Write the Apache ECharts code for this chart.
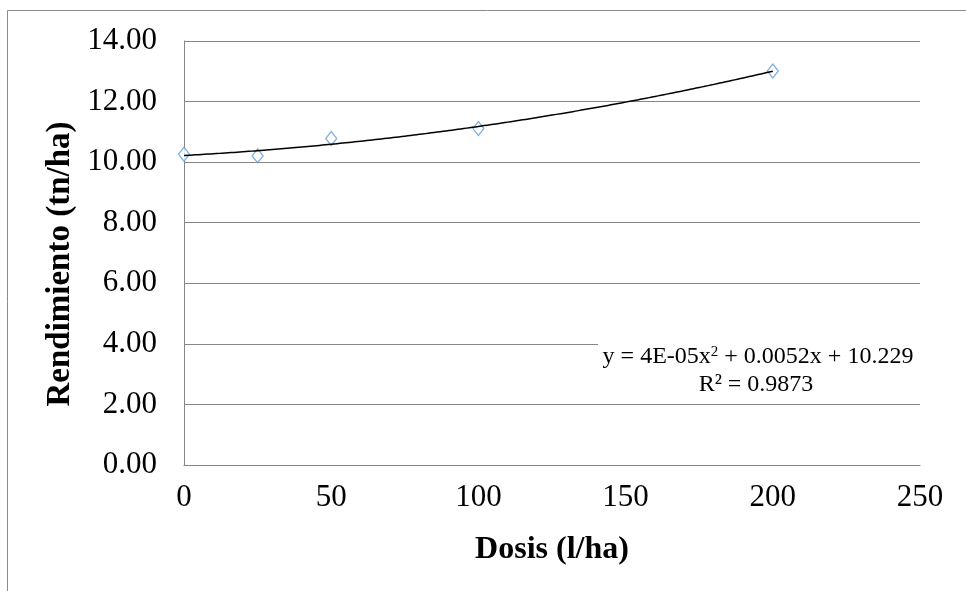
<!DOCTYPE html>
<html>
<head>
<meta charset="utf-8">
<script src="https://cdn.jsdelivr.net/npm/echarts@6/dist/echarts.min.js"></script>
<style>html,body{margin:0;padding:0;background:#fff;}#c{width:966px;height:591px;}</style>
</head>
<body>
<div id="c"></div>
<script>
const dosis = [0, 25, 50, 100, 200];
const rendimiento = [10.26, 10.21, 10.78, 11.11, 13.01];
const xTicks = [0, 50, 100, 150, 200, 250];
const yTicks = [0, 2, 4, 6, 8, 10, 12, 14];
const xTitle = 'Dosis (l/ha)';
const yTitle = 'Rendimiento (tn/ha)';
const eqLine1 = ['y = 4E-05x', '2', ' + 0.0052x + 10.229'];
const eqLine2 = 'R² = 0.9873';

// least squares quadratic fit (trendline)
function fitQuad(xs, ys) {
  const n = xs.length;
  let s = [0,0,0,0,0], t = [0,0,0];
  for (let i = 0; i < n; i++) {
    let p = 1;
    for (let k = 0; k < 5; k++) { s[k] += p; if (k < 3) t[k] += p * ys[i]; p *= xs[i]; }
  }
  const M = [[s[0], s[1], s[2], t[0]], [s[1], s[2], s[3], t[1]], [s[2], s[3], s[4], t[2]]];
  for (let i = 0; i < 3; i++) {
    for (let j = i + 1; j < 3; j++) {
      const f = M[j][i] / M[i][i];
      for (let k = i; k < 4; k++) M[j][k] -= f * M[i][k];
    }
  }
  const r = [0,0,0];
  for (let i = 2; i >= 0; i--) {
    let v = M[i][3];
    for (let k = i + 1; k < 3; k++) v -= M[i][k] * r[k];
    r[i] = v / M[i][i];
  }
  return r; // c, b, a
}
const coef = fitQuad(dosis, rendimiento);
const trend = [];
for (let x = dosis[0]; x <= dosis[dosis.length - 1]; x += 2) {
  trend.push([x, coef[0] + coef[1] * x + coef[2] * x * x]);
}

const serif = '"Liberation Serif", "Times New Roman", serif';
const chart = echarts.init(document.getElementById('c'), null, {renderer: 'canvas'});
chart.setOption({
  animation: false,
  backgroundColor: '#fff',
  grid: {left: 184, right: 46, top: 41, bottom: 126, containLabel: false},
  xAxis: {
    type: 'value', min: xTicks[0], max: xTicks[xTicks.length - 1], interval: 50,
    name: xTitle, nameLocation: 'middle', nameGap: 69,
    nameTextStyle: {fontFamily: serif, fontWeight: 'bold', fontSize: 32, color: '#000'},
    axisLine: {show: true, lineStyle: {color: '#868686', width: 1}},
    axisTick: {show: false},
    splitLine: {show: false},
    axisLabel: {fontFamily: serif, fontSize: 31, color: '#000', margin: 17}
  },
  yAxis: {
    type: 'value', min: yTicks[0], max: yTicks[yTicks.length - 1], interval: 2,
    axisLine: {show: true, lineStyle: {color: '#868686', width: 1}},
    axisTick: {show: false},
    splitLine: {show: true, lineStyle: {color: '#868686', width: 1}},
    axisLabel: {fontFamily: serif, fontSize: 31, color: '#000', margin: 27,
      formatter: v => v.toFixed(2)}
  },
  series: [
    {
      type: 'scatter', data: dosis.map((x, i) => [x, rendimiento[i]]),
      symbol: 'diamond', symbolSize: [11, 14],
      itemStyle: {color: '#fff', borderColor: '#5b9bd5', borderWidth: 1.3},
      z: 2
    },
    {
      type: 'line', data: trend, showSymbol: false, symbol: 'none', smooth: true,
      lineStyle: {color: '#000', width: 1.5}, z: 3
    }
  ],
  graphic: [
    {type: 'rect', shape: {x: 7.5, y: 10.5, width: 1200, height: 1000},
      style: {fill: 'none', stroke: '#8c8c8c', lineWidth: 1}, silent: true, z: 0},
    {type: 'text', x: 60, y: 264, rotation: Math.PI / 2, z: 5,
      style: {text: yTitle, fontFamily: serif, fontWeight: 'bold', fontSize: 33, fill: '#000',
        align: 'center', verticalAlign: 'middle'}},
    {type: 'rect', shape: {x: 598, y: 340, width: 336, height: 58},
      style: {fill: '#fff'}, z: 10},
    {type: 'text', x: 758, y: 357, z: 11,
      style: {
        text: eqLine1[0] + '{sup|' + eqLine1[1] + '}' + eqLine1[2],
        fontFamily: serif, fontSize: 24, fill: '#000', align: 'center', verticalAlign: 'middle',
        rich: {sup: {fontFamily: serif, fontSize: 15, fill: '#000', verticalAlign: 'top', padding: [0,0,10,0]}}
      }},
    {type: 'text', x: 756, y: 385, z: 11,
      style: {text: eqLine2, fontFamily: serif, fontSize: 24, fill: '#000', align: 'center', verticalAlign: 'middle'}}
  ]
});
</script>
</body>
</html>
